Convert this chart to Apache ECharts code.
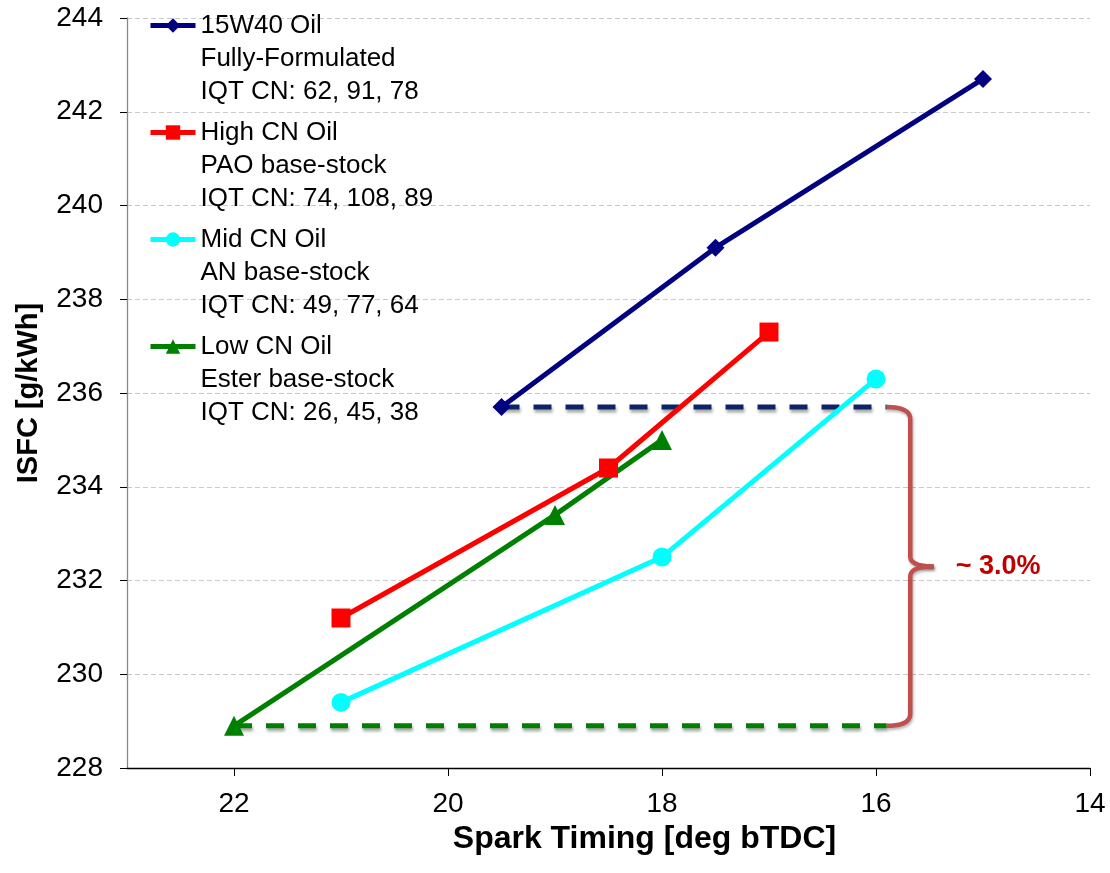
<!DOCTYPE html>
<html>
<head>
<meta charset="utf-8">
<script src="https://cdn.jsdelivr.net/npm/echarts@6/dist/echarts.min.js"></script>
<style>html,body{margin:0;padding:0;background:#fff}#c{width:1110px;height:873px}</style>
</head>
<body>
<div id="c"></div>
<script>
// ---- data ----
const seriesNames = ['15W40 Oil', 'High CN Oil', 'Mid CN Oil', 'Low CN Oil'];
const seriesSubLines = [
  ['Fully-Formulated', 'IQT CN: 62, 91, 78'],
  ['PAO base-stock', 'IQT CN: 74, 108, 89'],
  ['AN base-stock', 'IQT CN: 49, 77, 64'],
  ['Ester base-stock', 'IQT CN: 26, 45, 38']
];
const timing15W40 = [19.5, 17.5, 15.0];
const isfc15W40   = [235.7, 239.1, 242.7];
const timingHighCN = [21.0, 18.5, 17.0];
const isfcHighCN   = [231.2, 234.4, 237.3];
const timingMidCN = [21.0, 18.0, 16.0];
const isfcMidCN   = [229.4, 232.5, 236.3];
const timingLowCN = [22.0, 19.0, 18.0];
const isfcLowCN   = [228.9, 233.4, 235.0];
// reference (dashed) lines and bracket annotation
const refTopTiming = [19.5, 15.9];
const refTopIsfc   = [235.7, 235.7];
const refBotTiming = [22.0, 15.9];
const refBotIsfc   = [228.9, 228.9];
const bracketTiming = 15.68;
const bracketTipTiming = 15.46;
const bracketLabel = '~ 3.0%';
const xTickLabels = [14, 16, 18, 20, 22];
const yTickLabels = [228, 230, 232, 234, 236, 238, 240, 242, 244];

const pairs = (xs, ys) => xs.map((x, i) => [x, ys[i]]);
const FONT = '"Liberation Sans", Arial, sans-serif';
const L = 33;

const chart = echarts.init(document.getElementById('c'), null, {renderer: 'canvas'});

const styles = [
  {color: '#000080', symbol: 'diamond', symbolSize: [18, 18]},
  {color: '#FF0000', symbol: 'rect', symbolSize: 19},
  {color: '#00FFFF', symbol: 'circle', symbolSize: 19},
  {color: '#008000', symbol: 'triangle', symbolSize: 20}
];
const dataSets = [
  pairs(timing15W40, isfc15W40),
  pairs(timingHighCN, isfcHighCN),
  pairs(timingMidCN, isfcMidCN),
  pairs(timingLowCN, isfcLowCN)
];

const mainSeries = seriesNames.map((n, i) => ({
  type: 'line', name: n, data: dataSets[i], symbol: styles[i].symbol, symbolSize: styles[i].symbolSize,
  showAllSymbol: true, z: 5,
  itemStyle: {color: styles[i].color},
  lineStyle: {color: styles[i].color, width: 5},
  emphasis: {disabled: true}, animation: false
}));

const refSeries = [
  {data: pairs(refTopTiming, refTopIsfc), color: '#0C2463'},
  {data: pairs(refBotTiming, refBotIsfc), color: '#008000'}
].map(s => ({
  type: 'line', data: s.data, symbol: 'none', z: 3, silent: true,
  lineStyle: {color: s.color, width: 5, type: [18, 14], shadowColor: 'rgba(0,0,0,0.35)', shadowBlur: 3, shadowOffsetY: 3, shadowOffsetX: 1},
  animation: false
}));

const nameIndex = {};
seriesNames.forEach((n, i) => nameIndex[n] = i);

chart.setOption({
  backgroundColor: '#fff',
  animation: false,
  grid: {left: 127, right: 20, top: 18, bottom: 105, containLabel: false},
  xAxis: {
    type: 'value', inverse: true, min: 14, max: 23, interval: 2,
    axisLine: {show: true, onZero: false, lineStyle: {color: '#000', width: 1.3}},
    axisTick: {show: true, length: 8, lineStyle: {color: '#000'}},
    axisLabel: {showMaxLabel: false, fontFamily: FONT, fontSize: 28, color: '#000', margin: 22,
      formatter: v => xTickLabels.includes(v) ? String(v) : ''},
    splitLine: {show: false},
    name: 'Spark Timing [deg bTDC]', nameLocation: 'middle', nameGap: 40,
    nameTextStyle: {fontFamily: FONT, fontSize: 32, fontWeight: 'bold', color: '#000', padding: [0, 0, 0, 72]}
  },
  yAxis: {
    type: 'value', min: 228, max: 244, interval: 2,
    axisLine: {show: true, lineStyle: {color: '#888', width: 1.3}},
    axisTick: {show: true, length: 7, lineStyle: {color: '#000'}},
    axisLabel: {fontFamily: FONT, fontSize: 28, color: '#000', margin: 24,
      formatter: v => yTickLabels.includes(v) ? String(v) : ''},
    splitLine: {show: true, lineStyle: {color: '#C8C8C8', type: [5, 3], width: 1.2}},
    name: 'ISFC [g/kWh]', nameLocation: 'middle', nameGap: 84,
    nameTextStyle: {fontFamily: FONT, fontSize: 29, fontWeight: 'bold', color: '#000'}
  },
  legend: {
    show: true, orient: 'vertical', left: 148, top: -57, padding: 0,
    itemWidth: 45, itemHeight: 18, itemGap: -58,
    data: seriesNames.map((n, i) => ({name: n, lineStyle: {width: 5, color: styles[i].color}})),
    selectedMode: false,
    lineStyle: {width: 5},
    // two leading blank lines put the series name on the icon's row
    formatter: name => ['', '', name].concat(seriesSubLines[nameIndex[name]]).join('\n'),
    textStyle: {fontFamily: FONT, fontSize: 26, color: '#000', lineHeight: L}
  },
  series: mainSeries.concat(refSeries)
});

function quadPts(p0, p1, p2, n) {
  const out = [];
  for (let k = 0; k <= n; k++) {
    const t = k / n, u = 1 - t;
    out.push([u * u * p0[0] + 2 * u * t * p1[0] + t * t * p2[0], u * u * p0[1] + 2 * u * t * p1[1] + t * t * p2[1]]);
  }
  return out;
}

function drawBracket() {
  const top = chart.convertToPixel({gridIndex: 0}, [refTopTiming[1], refTopIsfc[1]]);
  const bot = chart.convertToPixel({gridIndex: 0}, [refBotTiming[1], refBotIsfc[1]]);
  const xb = chart.convertToPixel({gridIndex: 0}, [bracketTiming, 230])[0];
  const xt = chart.convertToPixel({gridIndex: 0}, [bracketTipTiming, 230])[0];
  const x0 = top[0];
  const yT = top[1], yB = bot[1], yM = (yT + yB) / 2;
  const upper = quadPts([x0, yT], [xb, yT], [xb, yT + 12], 10)
    .concat(quadPts([xb, yM - 10], [xb, yM], [xt, yM], 10));
  const lower = quadPts([xt, yM], [xb, yM], [xb, yM + 10], 10)
    .concat(quadPts([xb, yB - 12], [xb, yB], [x0, yB], 10));
  const st = {fill: null, stroke: '#C0504D', lineWidth: 4.5, lineJoin: 'round',
    shadowColor: 'rgba(0,0,0,0.3)', shadowBlur: 3, shadowOffsetY: 2, shadowOffsetX: 1};
  chart.setOption({
    graphic: [
      {type: 'polyline', shape: {points: upper}, style: st, z: 10, silent: true},
      {type: 'polyline', shape: {points: lower}, style: st, z: 10, silent: true},
      {type: 'text', x: xt + 22, y: yM, style: {text: bracketLabel, fill: '#C00000', font: 'bold 27px ' + FONT,
        verticalAlign: 'middle', align: 'left'}, z: 10, silent: true}
    ]
  });
}
drawBracket();
</script>
</body>
</html>
